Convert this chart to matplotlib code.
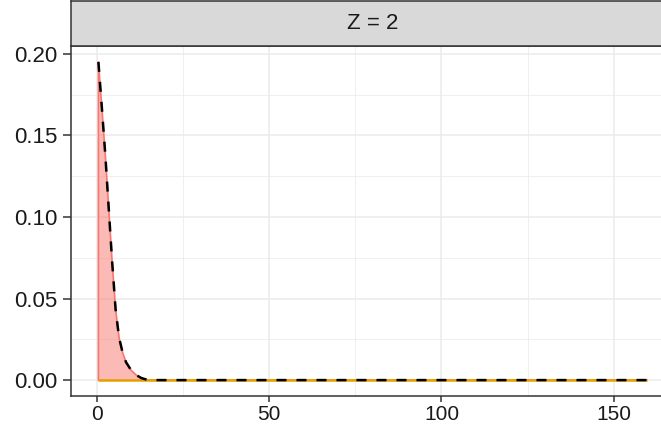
import numpy as np
import matplotlib
matplotlib.use('Agg')
import matplotlib.pyplot as plt

# ---- data (Z = 2 panel) ----
x_vals = [0.5, 1.5, 2.5, 3.5, 4.5, 5.5, 6.5, 7.5, 8.5, 10.0, 11.5, 13.0, 15.0, 40.0, 80.0, 120.0, 159.5]
density = [0.195, 0.167, 0.138, 0.105, 0.072, 0.043, 0.026, 0.017, 0.011, 0.006, 0.003, 0.0012, 0.0,
           0.0, 0.0, 0.0, 0.0]
baseline = [0.0, 0.0]          # orange reference line at zero
baseline_x = [0.5, 159.5]
strip_label = 'Z = 2'
x_ticks = [0, 50, 100, 150]
y_ticks = [0.00, 0.05, 0.10, 0.15, 0.20]

plt.rcParams['font.family'] = ['Liberation Sans', 'DejaVu Sans']

W, H = 661, 428
fig = plt.figure(figsize=(W / 100, H / 100), dpi=100)

# panel geometry in pixels (right edge runs past the image, as in the reference)
left_px, right_px, top_px, bottom_px = 71, 674, 46, 396
strip_top_px = 1
ax = fig.add_axes([left_px / W, 1 - bottom_px / H, (right_px - left_px) / W, (bottom_px - top_px) / H])
strip = fig.add_axes([left_px / W, 1 - top_px / H, (right_px - left_px) / W, (top_px - strip_top_px) / H])

x = np.array(x_vals, dtype=float)
y = np.array(density, dtype=float)

ax.fill_between(x, 0, y, facecolor='#F8766D', alpha=0.5, linewidth=0, zorder=2)
ax.plot(np.r_[x[0], x], np.r_[0, y], color='#F8766D', linewidth=1.2, zorder=3)
ax.plot(baseline_x, baseline, color='#E69F00', linewidth=1.8, zorder=4, solid_capstyle='butt')
ax.plot(x, y, color='black', linewidth=1.8, linestyle=(0, (4, 4)), zorder=5, dash_capstyle='butt')

# ggplot-style 5% expansion
xr = x.max() - x.min()
ax.set_xlim(x.min() - 0.05 * xr, x.max() + 0.05 * xr)
yr = y.max() - 0.0
ax.set_ylim(0 - 0.05 * yr, y.max() + 0.05 * yr)

ax.set_xticks(x_ticks)
ax.set_xticklabels([str(t) for t in x_ticks])
ax.set_yticks(y_ticks)
ax.set_yticklabels([f'{t:.2f}' for t in y_ticks])
ax.set_xticks([25, 75, 125], minor=True)
ax.set_yticks([0.025, 0.075, 0.125, 0.175], minor=True)

ax.grid(True, which='major', color='#EBEBEB', linewidth=1.1, zorder=0)
ax.grid(True, which='minor', color='#EBEBEB', linewidth=0.55, zorder=0)
ax.set_axisbelow(True)
ax.tick_params(axis='y', which='major', length=5.5, width=1.1, color='#333333', labelsize=16,
               labelcolor='#1A1A1A', pad=4.5)
ax.tick_params(axis='x', which='major', length=4.5, width=1.1, color='#333333', labelsize=15,
               labelcolor='#1A1A1A', pad=2)
ax.tick_params(which='minor', length=0)
for sp in ax.spines.values():
    sp.set_color('#333333')
    sp.set_linewidth(1.1)

strip.set_facecolor('#D9D9D9')
strip.set_xticks([])
strip.set_yticks([])
for sp in strip.spines.values():
    sp.set_color('#333333')
    sp.set_linewidth(1.1)
strip.text(0.5, 0.5, strip_label, transform=strip.transAxes, ha='center', va='center',
           fontsize=16, color='#1A1A1A')

fig.savefig('out.png', dpi=100)
